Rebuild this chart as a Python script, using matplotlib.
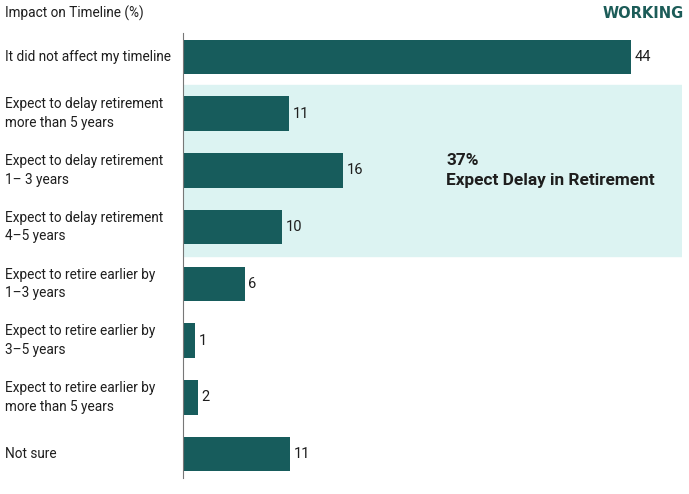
import matplotlib.pyplot as plt
import matplotlib.transforms as transforms
from matplotlib import rcParams

rcParams['font.family'] = ['Roboto', 'DejaVu Sans']

categories = [
    'It did not affect my timeline',
    'Expect to delay retirement\nmore than 5 years',
    'Expect to delay retirement\n1\u2013 3 years',
    'Expect to delay retirement\n4\u20135 years',
    'Expect to retire earlier by\n1\u20133 years',
    'Expect to retire earlier by\n3\u20135 years',
    'Expect to retire earlier by\nmore than 5 years',
    'Not sure',
]
# bar lengths as drawn (unrounded) and the rounded labels shown
values = [44, 10.5, 15.8, 9.75, 6.1, 1.25, 1.5, 10.55]
value_labels = ['44', '11', '16', '10', '6', '1', '2', '11']

bar_color = '#175c5c'
shade_color = '#dcf3f2'
text_color = '#1e1e1e'

fig = plt.figure(figsize=(6.89, 4.94), dpi=100)
ax = fig.add_axes([182.5 / 689, 16 / 494, 500 / 689, 445 / 494])

pos = list(range(len(values)))
ax.axhspan(0.5, 3.5, color=shade_color, zorder=0)
ax.barh(pos, values, height=0.61, color=bar_color, zorder=2)

for p, v, lab in zip(pos, values, value_labels):
    ax.text(v + 0.35, p, lab, va='center', ha='left', fontsize=10.5, color=text_color)

trans = transforms.blended_transform_factory(fig.transFigure, ax.transData)
for p, c in zip(pos, categories):
    ax.text(5 / 689, p, c, transform=trans, va='center', ha='left',
            fontsize=9.8, color=text_color, linespacing=1.4)

ax.text(25.9, 2, '37%\nExpect Delay in Retirement', va='center', ha='left',
        fontsize=12.4, fontweight='bold', color=text_color, linespacing=1.45)

ax.set_xlim(0, 49.1)
ax.set_ylim(7.42, -0.42)
ax.set_xticks([])
ax.set_yticks([])
for s in ['top', 'right', 'bottom']:
    ax.spines[s].set_visible(False)
ax.spines['left'].set_color('#777777')
ax.spines['left'].set_linewidth(0.8)

fig.text(5 / 689, 1 - 13 / 494, 'Impact on Timeline (%)', va='center', ha='left',
         fontsize=9.8, color=text_color)
fig.text(684 / 689, 1 - 13 / 494, 'WORKING', va='center', ha='right',
         fontsize=10.5, fontweight='bold', color='#1c5c58', family='DejaVu Sans')

fig.savefig('out.png', dpi=100)
